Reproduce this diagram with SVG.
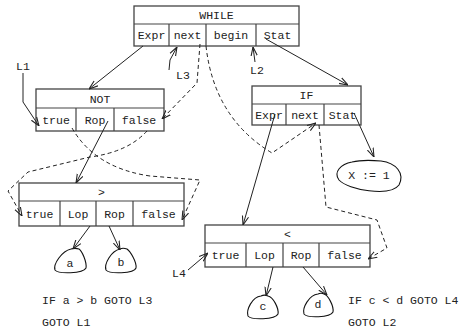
<svg xmlns="http://www.w3.org/2000/svg" width="464" height="330" viewBox="0 0 464 330">
<defs>
<style>
.box{fill:#fff;stroke:#444;stroke-width:1.3}
.ln{fill:none;stroke:#444;stroke-width:1.2}
.t{font-family:"Liberation Mono","DejaVu Sans Mono",monospace;font-size:11.5px;fill:#222;text-anchor:middle}
.tl{font-family:"Liberation Mono","DejaVu Sans Mono",monospace;font-size:11.5px;fill:#222}
.c{fill:none;stroke:#222;stroke-width:1;marker-end:url(#ah)}
.d{fill:none;stroke:#222;stroke-width:1;stroke-dasharray:4 3;marker-end:url(#ah)}
.b{fill:none;stroke:#111;stroke-width:1.1}
</style>
<marker id="ah" viewBox="0 0 10 10" refX="10" refY="5" markerWidth="9" markerHeight="9" orient="auto" markerUnits="userSpaceOnUse">
<path d="M0,1.5 L10,5 L0,8.5" fill="none" stroke="#222" stroke-width="1.2"/>
</marker>
</defs>
<rect width="464" height="330" fill="#fff"/>

<g id="while">
<rect class="box" x="134" y="6" width="165" height="40"/>
<path class="ln" d="M134,24 H299 M169,24 V46 M206,24 V46 M256,24 V46"/>
<text class="t" x="216.5" y="19">WHILE</text>
<text class="t" x="151.5" y="39">Expr</text>
<text class="t" x="187.5" y="39">next</text>
<text class="t" x="231" y="39">begin</text>
<text class="t" x="277.5" y="39">Stat</text>
</g>

<g id="not">
<rect class="box" x="36" y="89" width="128" height="42"/>
<path class="ln" d="M36,108 H164 M76,108 V131 M114,108 V131"/>
<text class="t" x="100" y="102.5">NOT</text>
<text class="t" x="56" y="123.5">true</text>
<text class="t" x="95" y="123.5">Rop</text>
<text class="t" x="139" y="123.5">false</text>
</g>

<g id="if">
<rect class="box" x="252" y="86" width="109" height="39"/>
<path class="ln" d="M252,104 H361 M286,104 V125 M324,104 V125"/>
<text class="t" x="306.5" y="99">IF</text>
<text class="t" x="269" y="118.5">Expr</text>
<text class="t" x="305" y="118.5">next</text>
<text class="t" x="342.5" y="118.5">Stat</text>
</g>

<g id="gt">
<rect class="box" x="19" y="183" width="165" height="43"/>
<path class="ln" d="M19,201 H184 M60,201 V226 M96,201 V226 M133,201 V226"/>
<text class="t" x="101.5" y="196">&gt;</text>
<text class="t" x="39.5" y="217.5">true</text>
<text class="t" x="78" y="217.5">Lop</text>
<text class="t" x="114.5" y="217.5">Rop</text>
<text class="t" x="158.5" y="217.5">false</text>
</g>

<g id="lt">
<rect class="box" x="205" y="225" width="165" height="42"/>
<path class="ln" d="M205,243 H370 M246,243 V267 M283,243 V267 M319,243 V267"/>
<text class="t" x="287.5" y="238">&lt;</text>
<text class="t" x="225.5" y="259">true</text>
<text class="t" x="264.5" y="259">Lop</text>
<text class="t" x="301" y="259">Rop</text>
<text class="t" x="344.5" y="259">false</text>
</g>

<g id="leaf-a">
<path class="b" d="M71,249 C62,251 53,264 55,270 C58,274 83,274 86,268 C87,262 82,251 79,249 C76,248 74,248 71,249 Z"/>
<text class="t" x="70" y="267">a</text>
</g>
<g id="leaf-b">
<path class="b" d="M120,249 C111,251 104,264 106,270 C109,274 134,274 136,268 C137,262 130,251 127,249 C124,248 122,248 120,249 Z"/>
<text class="t" x="121" y="266">b</text>
</g>
<g id="leaf-c">
<path class="b" d="M261,296 C252,297 246,310 248,316 C251,320 275,320 278,314 C279,308 273,297 268,296 C266,295 263,295 261,296 Z"/>
<text class="t" x="263" y="310">c</text>
</g>
<g id="leaf-d">
<path class="b" d="M318,294 C309,295 302,308 304,314 C307,318 330,318 333,312 C334,306 328,295 324,294 C322,293 320,293 318,294 Z"/>
<text class="t" x="318" y="308">d</text>
</g>
<g id="leaf-x">
<path class="b" d="M352,162 C341,164 333,172 339,180 C348,190 390,197 399,185 C405,173 396,163 381,161 C370,160 360,160 352,162 Z"/>
<text class="t" x="369" y="179">X := 1</text>
</g>

<g id="labels">
<text class="tl" x="16" y="70">L1</text>
<text class="tl" x="176" y="79">L3</text>
<text class="tl" x="250" y="74">L2</text>
<text class="tl" x="172" y="277">L4</text>
<text class="tl" x="42" y="304">IF a &gt; b GOTO L3</text>
<text class="tl" x="42" y="326">GOTO L1</text>
<text class="tl" x="348" y="304">IF c &lt; d GOTO L4</text>
<text class="tl" x="348" y="326">GOTO L2</text>
</g>

<g id="connectors">
<path class="c" d="M143,46 L89,89"/>
<path class="c" d="M169,70 L170,60 L177,47"/>
<path class="c" d="M255,62 L253,47"/>
<path class="c" d="M266,39 L348,85"/>
<path class="c" d="M108,121 L76,183"/>
<path class="c" d="M90,226 L73,249"/>
<path class="c" d="M109,226 L120,250"/>
<path class="c" d="M275,114 L243,225"/>
<path class="c" d="M354,113 L374,157"/>
<path class="c" d="M23,73 L23,102 L39,126"/>
<path class="c" d="M188,270 L208,253"/>
<path class="c" d="M273,267 L266,296"/>
<path class="c" d="M303,267 L327,295"/>
<path class="d" d="M200,44 L197,83 L162,119"/>
<path class="d" d="M206,46 Q214,118 272,153 L316,123"/>
<path class="d" d="M72,128 Q95,168 150,176 L200,180 L182,220"/>
<path class="d" d="M147,131 Q128,152 90,157 L28,172 L8,191 L22,216"/>
<path class="d" d="M319,125 L326,207 L377,220 L387,248 L368,259"/>
</g>
</svg>
